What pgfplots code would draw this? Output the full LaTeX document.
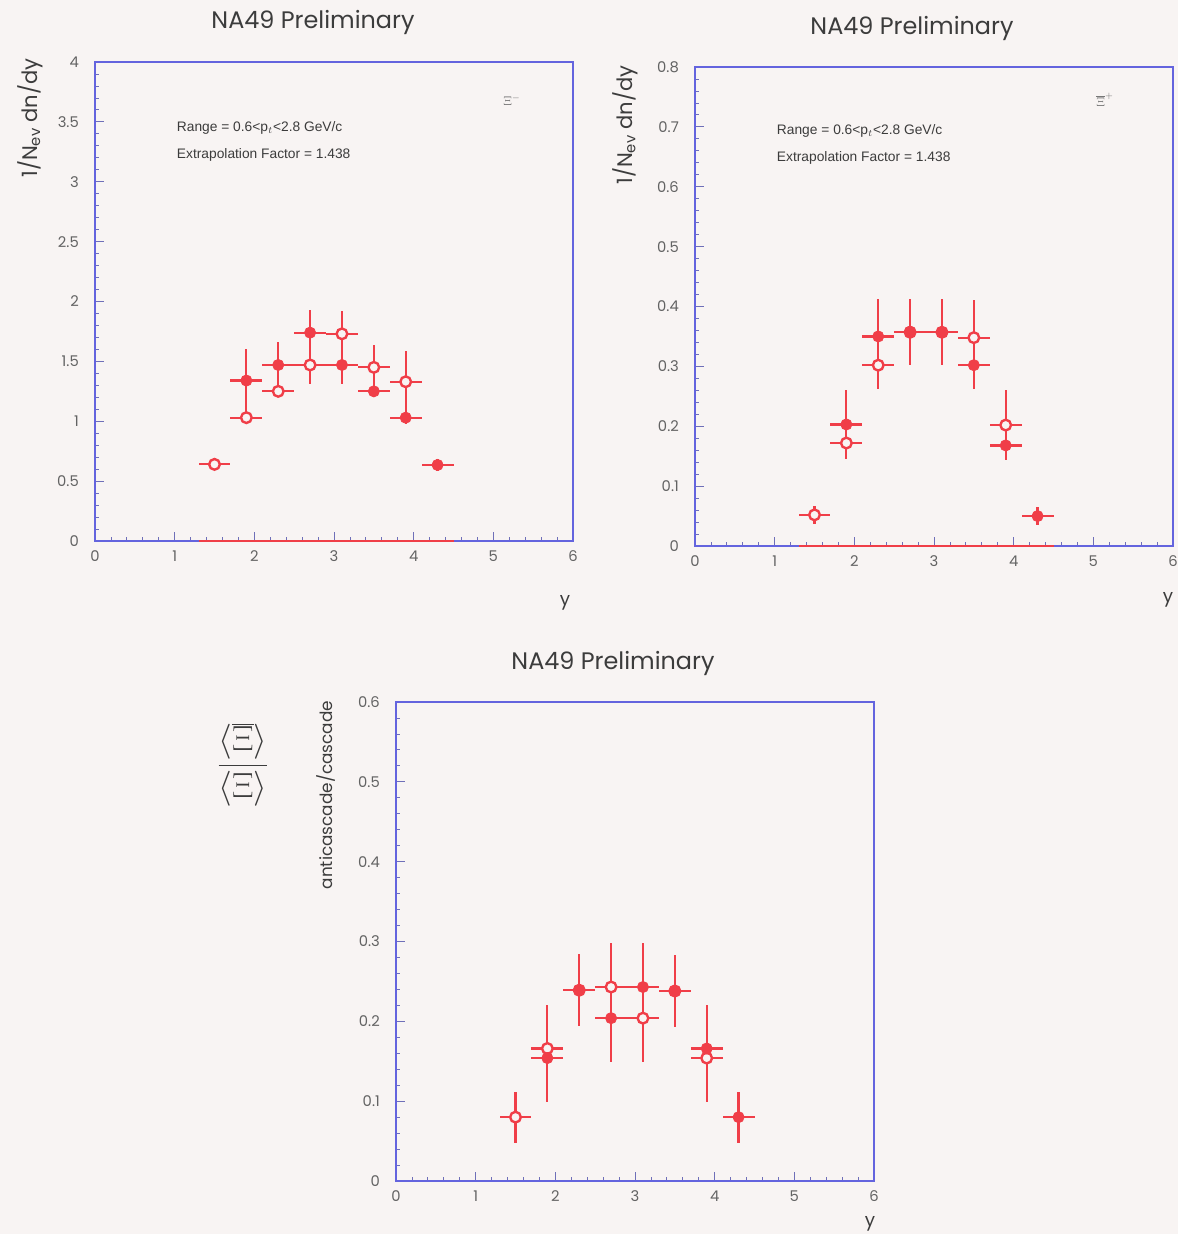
\documentclass[border=0pt]{standalone}
\usepackage{pgfplots}
\pgfplotsset{compat=1.18}
\usepackage{pgfplotstable}
\usepackage{fontspec}
\setmainfont{Poppins}
\newfontfamily\smallsans{Liberation Sans}

\definecolor{bgcol}{RGB}{248,244,243}
\definecolor{axblue}{RGB}{100,100,222}
\definecolor{ptred}{RGB}{240,62,72}
\definecolor{txtgray}{RGB}{60,60,60}

% Xi- (top left), open = reflected points
\pgfplotstableread{
x   y     ex   ey
1.5 0.64  0.2  0.05
1.9 1.03  0.2  0.05
2.3 1.25  0.2  0.05
2.7 1.47  0.2  0.16
3.1 1.73  0.2  0.19
3.5 1.45  0.2  0.19
3.9 1.33  0.2  0.26
}\xiOpen
\pgfplotstableread{
x   y     ex   ey
1.9 1.34  0.2  0.26
2.3 1.47  0.2  0.19
2.7 1.74  0.2  0.19
3.1 1.47  0.2  0.16
3.5 1.25  0.2  0.05
3.9 1.03  0.2  0.05
4.3 0.635 0.2  0.05
}\xiFilled

% anti-Xi+ (top right)
\pgfplotstableread{
x   y     ex   ey
1.5 0.052 0.2  0.015
1.9 0.172 0.2  0.025
2.3 0.302 0.2  0.040
2.7 0.357 0.2  0.055
3.1 0.357 0.2  0.055
3.5 0.348 0.2  0.063
3.9 0.202 0.2  0.058
}\axiOpen
\pgfplotstableread{
x   y     ex   ey
1.9 0.203 0.2  0.058
2.3 0.350 0.2  0.063
2.7 0.358 0.2  0.055
3.1 0.357 0.2  0.055
3.5 0.302 0.2  0.040
3.9 0.168 0.2  0.025
4.3 0.050 0.2  0.015
}\axiFilled

% ratio anti-Xi / Xi (bottom)
\pgfplotstableread{
x   y     ex   ey
1.5 0.080 0.2  0.032
1.9 0.166 0.2  0.055
2.3 0.239 0.2  0.045
2.7 0.243 0.2  0.055
3.1 0.204 0.2  0.055
3.5 0.238 0.2  0.045
3.9 0.154 0.2  0.055
}\ratOpen
\pgfplotstableread{
x   y     ex   ey
1.9 0.154 0.2  0.055
2.3 0.239 0.2  0.045
2.7 0.204 0.2  0.055
3.1 0.243 0.2  0.055
3.5 0.238 0.2  0.045
3.9 0.166 0.2  0.055
4.3 0.080 0.2  0.032
}\ratFilled

\pgfplotsset{
  rootax/.style={
    scale only axis, width=11.95cm, height=11.975cm,
    xmin=0, xmax=6, ymin=0,
    axis line style={draw=axblue, line width=1.3pt},
    tick align=inside, tick pos=left,
    xtick={0,1,2,3,4,5,6}, minor x tick num=4, minor y tick num=4,
    major tick length=0.22cm, minor tick length=0.11cm,
    every tick/.style={draw=axblue!60!gray, line width=0.6pt},
    /pgf/number format/assume math mode=true,
    tick label style={font=\fontsize{10.5}{12}\selectfont, text=txtgray!80},
    yticklabel style={xshift=-0.28cm},
    xticklabel style={yshift=-0.12cm},
    clip=false,
  },
  errpts/.style={
    only marks,
    error bars/x dir=both, error bars/x explicit,
    error bars/y dir=both, error bars/y explicit,
    error bars/error mark=none,
    error bars/error bar style={line width=1.6pt, color=ptred},
  },
  openmk/.style={mark=*, mark size=3.8pt,
    mark options={draw=ptred, fill=bgcol, line width=1.7pt}},
  filledmk/.style={mark=*, mark size=4pt,
    mark options={draw=ptred, fill=ptred, line width=0.5pt}},
}

\begin{document}
\begin{tikzpicture}
\fill[bgcol] (0,0) rectangle (29.45cm,-30.85cm);
\useasboundingbox (0,0) rectangle (29.45cm,-30.85cm);

% ---------- top left: Xi- ----------
\begin{axis}[rootax, at={(2.375cm,-13.525cm)}, anchor=south west,
  ymax=4, ytick={0,0.5,1,1.5,2,2.5,3,3.5,4}]
  \addplot[ptred, line width=1.2pt, forget plot] coordinates {(1.3,0) (4.5,0)};
  \addplot[errpts, openmk] table[x=x, y=y, x error=ex, y error=ey] {\xiOpen};
  \addplot[errpts, filledmk] table[x=x, y=y, x error=ex, y error=ey] {\xiFilled};
\end{axis}

% ---------- top right: anti-Xi+ ----------
\begin{axis}[rootax, at={(17.375cm,-13.65cm)}, anchor=south west,
  ymax=0.8, ytick={0,0.1,0.2,0.3,0.4,0.5,0.6,0.7,0.8},
  yticklabels={0,0.1,0.2,0.3,0.4,0.5,0.6,0.7,0.8}]
  \addplot[ptred, line width=1.2pt, forget plot] coordinates {(1.3,0) (4.5,0)};
  \addplot[errpts, openmk] table[x=x, y=y, x error=ex, y error=ey] {\axiOpen};
  \addplot[errpts, filledmk] table[x=x, y=y, x error=ex, y error=ey] {\axiFilled};
\end{axis}

% ---------- bottom: ratio ----------
\begin{axis}[rootax, at={(9.9cm,-29.525cm)}, anchor=south west,
  ymax=0.6, ytick={0,0.1,0.2,0.3,0.4,0.5,0.6},
  yticklabels={0,0.1,0.2,0.3,0.4,0.5,0.6}]
  \addplot[errpts, openmk] table[x=x, y=y, x error=ex, y error=ey] {\ratOpen};
  \addplot[errpts, filledmk] table[x=x, y=y, x error=ex, y error=ey] {\ratFilled};
\end{axis}

% titles
\node[text=txtgray, font=\fontsize{17}{20}\selectfont] at (7.825cm,-0.55cm) {NA49 Preliminary};
\node[text=txtgray, font=\fontsize{17}{20}\selectfont] at (22.8cm,-0.7cm) {NA49 Preliminary};
\node[text=txtgray, font=\fontsize{17}{20}\selectfont] at (15.325cm,-16.575cm) {NA49 Preliminary};

% axis titles
\node[rotate=90, text=txtgray, font=\fontsize{15}{17}\selectfont] at (0.75cm,-2.95cm) {1/N$_{\mathrm{ev}}$ dn/dy};
\node[rotate=90, text=txtgray, font=\fontsize{15}{17}\selectfont] at (15.625cm,-3.125cm) {1/N$_{\mathrm{ev}}$ dn/dy};
\node[rotate=90, text=txtgray, font=\fontsize{12}{14}\selectfont] at (8.15cm,-19.875cm) {anticascade/cascade};
\node[text=txtgray, font=\fontsize{13}{15}\selectfont] at (14.125cm,-15.075cm) {y};
\node[text=txtgray, font=\fontsize{13}{15}\selectfont] at (29.2cm,-15.0cm) {y};
\node[text=txtgray, font=\fontsize{13}{15}\selectfont] at (21.75cm,-30.6cm) {y};

% big ratio symbol
\node[text=txtgray, font=\fontsize{28}{32}\selectfont] at (6.075cm,-19.125cm)
  {$\displaystyle\frac{\left\langle\overline{\Xi}\right\rangle}{\left\langle\Xi\right\rangle}$};

% fit range annotations
\node[anchor=west, text=txtgray, font=\smallsans\fontsize{9.8}{11}\selectfont] at (4.3cm,-3.2cm)
  {Range = 0.6<p$_{t}$<2.8 GeV/c};
\node[anchor=west, text=txtgray, font=\smallsans\fontsize{9.8}{11}\selectfont] at (4.3cm,-3.875cm)
  {Extrapolation Factor = 1.438};
\node[anchor=west, text=txtgray, font=\smallsans\fontsize{9.8}{11}\selectfont] at (19.3cm,-3.275cm)
  {Range = 0.6<p$_{t}$<2.8 GeV/c};
\node[anchor=west, text=txtgray, font=\smallsans\fontsize{9.8}{11}\selectfont] at (19.3cm,-3.95cm)
  {Extrapolation Factor = 1.438};

% particle tags
\node[text=txtgray!70, font=\fontsize{9}{10}\selectfont] at (12.8cm,-2.5cm) {$\Xi^{-}$};
\node[text=txtgray!70, font=\fontsize{9}{10}\selectfont] at (27.625cm,-2.5cm) {$\overline{\Xi}^{+}$};
\end{tikzpicture}
\end{document}
